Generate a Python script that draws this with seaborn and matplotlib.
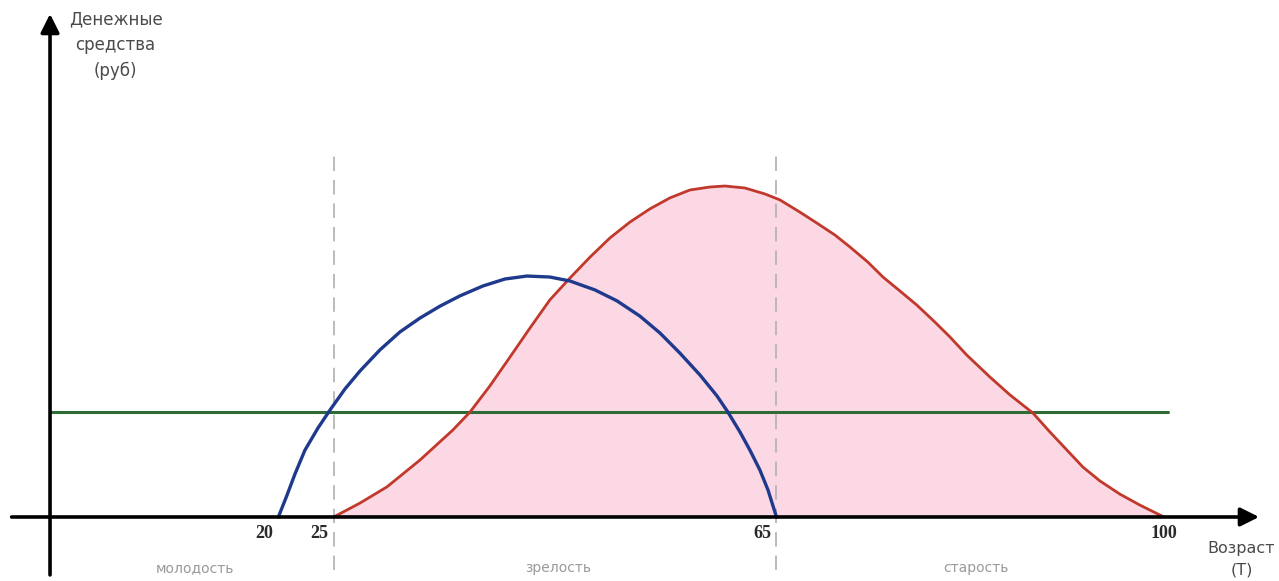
import matplotlib
matplotlib.use("Agg")
import matplotlib.pyplot as plt
import seaborn as sns
import pandas as pd

# ---- data ----
blue_age = [20, 20.78, 21.5, 22.4, 23.58, 24.66, 26.02, 27.37, 29.18, 30.98, 32.79, 34.6, 36.4,
            38.48, 40.47, 42.46, 44.53, 46.34, 48.6, 50.59, 52.66, 54.47, 56.28, 58.09, 59.62,
            60.61, 61.7, 62.6, 63.5, 64.23, 65]
blue_val = [0, 6.6, 13.0, 20.2, 26.9, 32.3, 38.7, 44.1, 50.5, 55.9, 60.1, 63.7, 66.8,
            69.8, 71.9, 72.8, 72.5, 71.3, 68.6, 65.3, 60.7, 55.6, 49.5, 42.9, 36.6,
            31.7, 25.7, 20.2, 14.2, 8.2, 0]

red_age = [25, 27.37, 29.81, 32.79, 35.77, 37.31, 39.11, 40.92, 42.73, 44.53, 46.34, 48.15,
           49.95, 51.76, 53.57, 55.37, 57.18, 58.99, 60.34, 62.15, 63.96, 65.31, 67.12, 68.65,
           70.28, 71.63, 73.26, 74.62, 76.15, 77.69, 79.31, 80.67, 82.2, 84.28, 86.09, 88.17,
           89.7, 91.33, 92.68, 94.22, 96.03, 97.83, 100]
red_val = [0, 4.2, 9.1, 17.2, 26.3, 31.7, 39.6, 48.3, 57.1, 65.6, 72.2, 78.5,
           84.3, 89.1, 93.1, 96.4, 98.8, 99.7, 100.0, 99.4, 97.6, 95.8, 92.1, 88.8,
           85.2, 81.6, 77.0, 72.5, 68.3, 64.0, 58.9, 54.4, 48.9, 42.3, 36.9, 31.4,
           25.7, 19.9, 15.1, 10.9, 6.9, 3.6, 0]

green_age = [-0.6, 100.4]
green_val = [31.7, 31.7]

tick_ages = [20, 25, 65, 100]
tick_labels = ["20", "25", "65", "100"]
period_bounds = [25, 65]
period_names = ["молодость", "зрелость", "старость"]
y_title = "Денежные\nсредства\n(руб)"
x_title = "Возраст\n(Т)"

blue_df = pd.DataFrame({"age": blue_age, "val": blue_val})
red_df = pd.DataFrame({"age": red_age, "val": red_val})
green_df = pd.DataFrame({"age": green_age, "val": green_val})

sns.set_theme(style="white")
plt.rcParams["font.family"] = ["DejaVu Sans"]

fig = plt.figure(figsize=(12.79, 5.81), dpi=100)
ax = fig.add_axes([0, 0, 1, 1])
ax.set_xlim(-5.15, 110.4)
ax.set_ylim(-19.34, 156.2)
ax.axis("off")

# pink fill under red curve
ax.fill_between(red_df["age"], red_df["val"], 0, color="#fbd8e4", zorder=1, linewidth=0)

# dashed period separators
for b in period_bounds:
    ax.plot([b, b], [-16, 111.5], color="#b5b5b5", lw=1.3, ls=(0, (8, 5)), zorder=2)

sns.lineplot(data=green_df, x="age", y="val", ax=ax, color="#2e6b36", lw=2.2, zorder=3)
sns.lineplot(data=red_df, x="age", y="val", ax=ax, color="#c0392b", lw=2.0, zorder=4, sort=False)
sns.lineplot(data=blue_df, x="age", y="val", ax=ax, color="#1f3a8c", lw=2.4, zorder=5, sort=False)

# axes with arrows
ax.annotate("", xy=(108.6, 0), xytext=(-4.1, 0),
            arrowprops=dict(arrowstyle="-|>", lw=2.6, color="black", mutation_scale=28,
                            shrinkA=0, shrinkB=0), zorder=6)
ax.annotate("", xy=(-0.63, 152), xytext=(-0.63, -17.5),
            arrowprops=dict(arrowstyle="-|>", lw=2.6, color="black", mutation_scale=28,
                            shrinkA=0, shrinkB=0), zorder=6)

# tick labels
for a, t in zip(tick_ages, tick_labels):
    if t == "100":
        ax.text(a, -5, t, ha="center", va="center", fontsize=13,
                family="Liberation Serif", fontweight="bold", color="#2a2a2a")
    else:
        ax.text(a - 0.5, -5, t, ha="right", va="center", fontsize=13,
                family="Liberation Serif", fontweight="bold", color="#2a2a2a")

# period names
period_x = [12.5, 45.3, 83]
for x, name in zip(period_x, period_names):
    ax.text(x, -15.5, name, ha="center", va="center", fontsize=10, color="#9a9a9a")

ax.text(5.3, 153.0, y_title, ha="center", va="top", fontsize=12, color="#4a4a4a",
        linespacing=1.55)
ax.text(107.0, -7.3, x_title, ha="center", va="top", fontsize=11.5, color="#4a4a4a",
        linespacing=1.5)

fig.savefig("out.png", dpi=100)
